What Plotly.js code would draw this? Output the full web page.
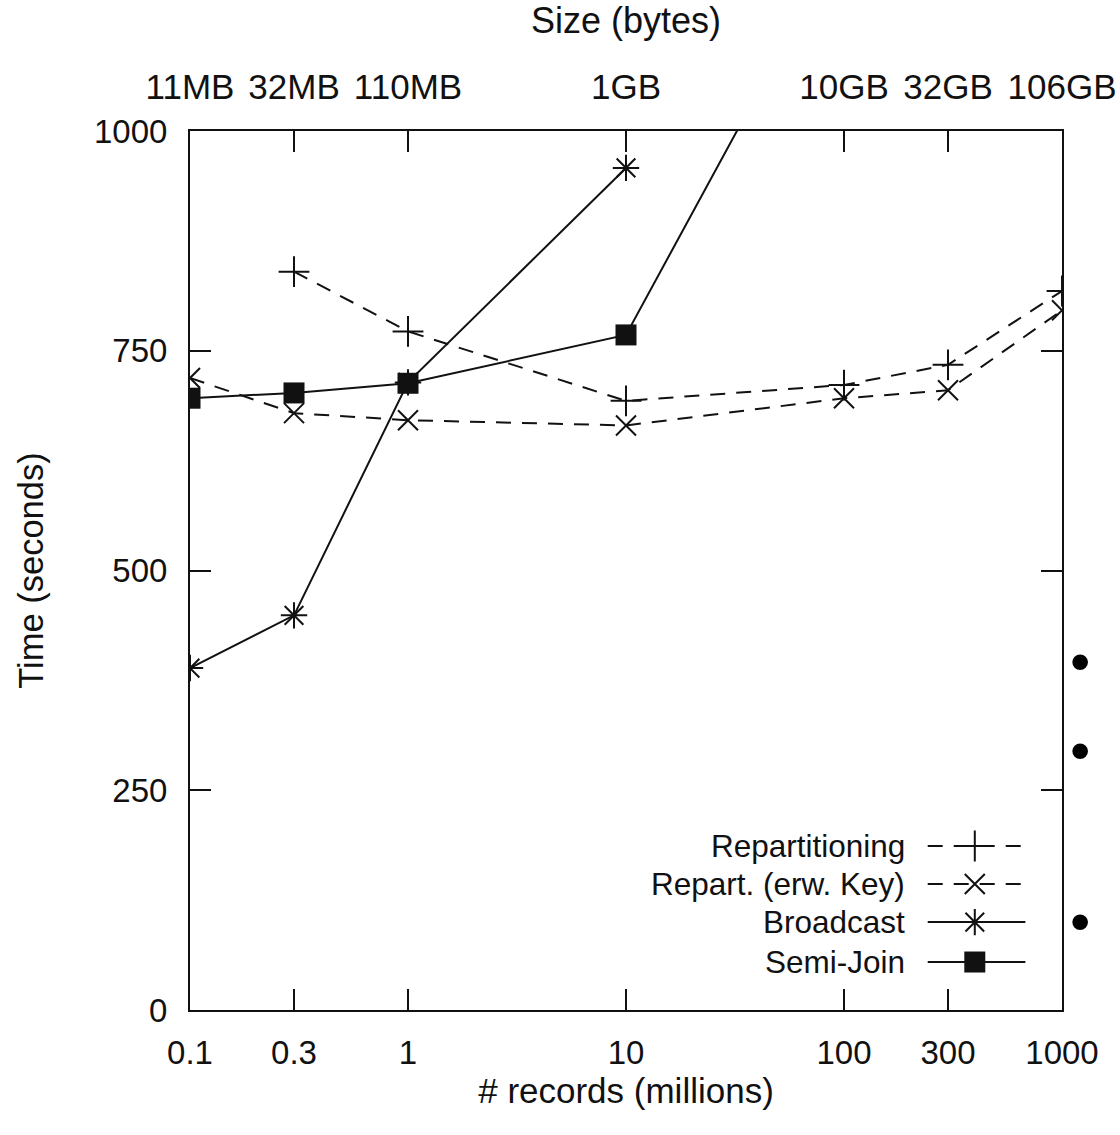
<!DOCTYPE html>
<html>
<head>
<meta charset="utf-8">
<script src="https://cdn.plot.ly/plotly-3.0.1.min.js"></script>
<style>html,body{margin:0;padding:0;background:#fff;}#chart{width:1120px;height:1135px;}</style>
</head>
<body>
<div id="chart"></div>
<script>
// Data (records in millions, time in seconds)
const records = [0.1, 0.3, 1, 10, 100, 300, 1000];
const sizeLabels = ["11MB", "32MB", "110MB", "1GB", "10GB", "32GB", "106GB"];
const yTicks = [0, 250, 500, 750, 1000];

const repartX = [0.3, 1, 10, 100, 300, 1000];
const repartY = [840, 772, 693, 711, 734, 818];

const repartKeyX = [0.1, 0.3, 1, 10, 100, 300, 1000];
const repartKeyY = [719, 679, 671, 665, 696, 705, 796];

const broadcastX = [0.1, 0.3, 1, 10];
const broadcastY = [389, 449, 714, 958];

const semiJoinX = [0.1, 0.3, 1, 10, 100];
const semiJoinY = [696, 702, 713, 768, 1224];

const seriesNames = ["Repartitioning", "Repart. (erw. Key)", "Broadcast", "Semi-Join"];

const FONT = "Liberation Sans, Arial, sans-serif";
const INK = "#111";
const dashPat = "15px,11px";

const traces = [
  {x: repartX, y: repartY, name: seriesNames[0], type: "scatter", mode: "lines+markers",
   line: {color: INK, width: 2, dash: dashPat},
   marker: {symbol: "cross-thin", size: 22, color: INK, line: {color: INK, width: 2}}},
  {x: repartKeyX, y: repartKeyY, name: seriesNames[1], type: "scatter", mode: "lines+markers",
   line: {color: INK, width: 2, dash: dashPat},
   marker: {symbol: "x-thin", size: 20, color: INK, line: {color: INK, width: 2}}},
  {x: broadcastX, y: broadcastY, name: seriesNames[2], type: "scatter", mode: "lines+markers",
   line: {color: INK, width: 2},
   marker: {symbol: "asterisk", size: 22, color: INK, line: {color: INK, width: 2}}},
  {x: semiJoinX, y: semiJoinY, name: seriesNames[3], type: "scatter", mode: "lines+markers",
   line: {color: INK, width: 2},
   marker: {symbol: "square", size: 21, color: INK, line: {width: 0}}}
];

// Custom legend (text left of sample, as in the original) on an overlay [0,1] axis pair
const legRowsY = [0.1866, 0.1433, 0.100, 0.0546];
const legLineX = [0.846, 0.958];
const legMarkX = 0.900;
const legStyles = [
  {dash: dashPat, sym: "cross-thin", size: 22},
  {dash: dashPat, sym: "x-thin", size: 20},
  {dash: "solid", sym: "asterisk", size: 22},
  {dash: "solid", sym: "square", size: 21}
];
legStyles.forEach((s, i) => {
  traces.push({x: legLineX, y: [legRowsY[i], legRowsY[i]], xaxis: "x3", yaxis: "y3", type: "scatter",
    mode: "lines", line: {color: INK, width: 2, dash: s.dash}, showlegend: false, hoverinfo: "skip"});
  traces.push({x: [legMarkX], y: [legRowsY[i]], xaxis: "x3", yaxis: "y3", type: "scatter",
    mode: "markers", marker: {symbol: s.sym, size: s.size, color: INK, line: {color: INK, width: s.sym === "square" ? 0 : 2}},
    showlegend: false, hoverinfo: "skip"});
});

const annotations = seriesNames.map((n, i) => ({
  xref: "paper", yref: "paper", x: 0.822, y: legRowsY[i], xanchor: "right", yanchor: "middle",
  text: n, showarrow: false, font: {family: FONT, size: 31.5, color: INK}
}));
// slide bullets at the right edge
[0.398, 0.296, 0.102].forEach(yy => annotations.push({
  xref: "paper", yref: "paper", x: 1.021, y: yy, xanchor: "center", yanchor: "middle",
  text: "•", showarrow: false, font: {family: FONT, size: 58, color: "#000"}
}));

const layout = {
  width: 1120, height: 1135,
  margin: {l: 190, r: 58, t: 131, b: 125},
  paper_bgcolor: "#fff", plot_bgcolor: "#fff",
  showlegend: false,
  font: {family: FONT, size: 33, color: INK},
  xaxis: {
    type: "log", range: [-1, 3], tickvals: records, ticktext: records.map(String),
    ticks: "inside", ticklen: 21, tickwidth: 2, tickcolor: INK,
    showline: true, linecolor: INK, linewidth: 2, showgrid: false, zeroline: false,
    ticklabelstandoff: 12, tickfont: {family: FONT, size: 33, color: INK},
    title: {text: "# records (millions)", font: {family: FONT, size: 35, color: INK}, standoff: 2},
    fixedrange: true
  },
  xaxis2: {
    type: "log", range: [-1, 3], overlaying: "x", side: "top", anchor: "y",
    tickvals: records, ticktext: sizeLabels,
    ticks: "inside", ticklen: 21, tickwidth: 2, tickcolor: INK,
    showline: true, linecolor: INK, linewidth: 2, showgrid: false, zeroline: false,
    ticklabelstandoff: 16, tickfont: {family: FONT, size: 35, color: INK},
    title: {text: "Size (bytes)", font: {family: FONT, size: 36, color: INK}, standoff: 24},
    fixedrange: true
  },
  yaxis: {
    range: [0, 1000], tickvals: yTicks, ticktext: yTicks.map(String),
    ticks: "inside", ticklen: 21, tickwidth: 2, tickcolor: INK, mirror: "ticks",
    showline: true, linecolor: INK, linewidth: 2, showgrid: false, zeroline: false,
    ticklabelstandoff: 14, tickfont: {family: FONT, size: 33, color: INK},
    title: {text: "Time (seconds)", font: {family: FONT, size: 34.5, color: INK}, standoff: 40},
    fixedrange: true
  },
  xaxis3: {range: [0, 1], overlaying: "x", visible: false, fixedrange: true},
  yaxis3: {range: [0, 1], overlaying: "y", visible: false, fixedrange: true, anchor: "x3"},
  annotations: annotations
};
// make top axis draw even without its own data
traces.push({x: [0.1, 1000], y: [null, null], xaxis: "x2", yaxis: "y", type: "scatter", mode: "lines", showlegend: false, hoverinfo: "skip"});

Plotly.newPlot("chart", traces, layout, {displayModeBar: false, staticPlot: true});
</script>
</body>
</html>
